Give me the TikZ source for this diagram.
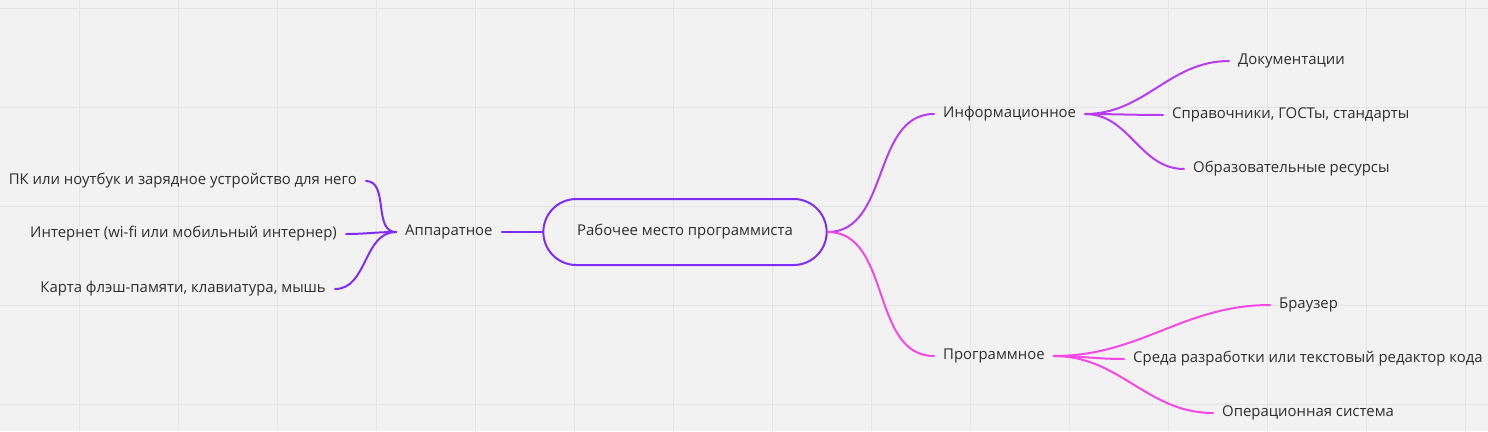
\documentclass[tikz,border=0pt]{standalone}
\usepackage{fontspec}
\setmainfont{Open Sans}
\usetikzlibrary{shapes.misc}
\definecolor{bgcol}{HTML}{F2F2F2}
\definecolor{gridcol}{HTML}{E5E5E5}
\definecolor{txtcol}{HTML}{2E2E2E}
\definecolor{hwcol}{HTML}{7F2DF5}
\definecolor{infocol}{HTML}{B83CF5}
\definecolor{progcol}{HTML}{F548E6}
\begin{document}
\begin{tikzpicture}[x=1pt,y=-1pt]
%===STYLES===
\tikzset{item/.style ={text=txtcol, inner xsep=9pt, inner ysep=0pt, font=\fontsize{14.9}{17}\selectfont},
 rootbox/.style ={draw=hwcol, line width=2pt, rounded rectangle, minimum width=290pt, minimum height=66pt, text=txtcol, font=\fontsize{14.9}{17}\selectfont},
 link/.style ={line width=2pt, line cap=round},
 gridline/.style ={gridcol, line width=1pt}}
%===background and grid===
\useasboundingbox (0,0) rectangle (1488,431);
\fill[bgcol] (0,0) rectangle (1488,431);
\foreach \gx in {79,178,...,1465} \draw[gridline] (\gx,0) -- (\gx,431);
\foreach \gy in {8,107,...,404} \draw[gridline] (0,\gy) -- (1488,\gy);
%===root===
\node[rootbox] (root) at (685,232) {Рабочее место программиста};
%===branches===
\node[item,anchor=west] (hw) at (396,232) {Аппаратное};
\node[item,anchor=west] (info) at (934,114) {Информационное};
\node[item,anchor=west] (prog) at (934,356) {Программное};
%===leaves left===
\node[item,anchor=east] (pc) at (366,181) {ПК или ноутбук и зарядное устройство для него};
\node[item,anchor=east] (net) at (346,234) {Интернет (wi-fi или мобильный интернер)};
\node[item,anchor=east] (card) at (335,289) {Карта флэш-памяти, клавиатура, мышь};
%===leaves right===
\node[item,anchor=west] (docs) at (1229,61) {Документации};
\node[item,anchor=west] (refs) at (1163,115) {Справочники, ГОСТы, стандарты};
\node[item,anchor=west] (edu) at (1184,169) {Образовательные ресурсы};
\node[item,anchor=west] (web) at (1270,305) {Браузер};
\node[item,anchor=west] (ide) at (1124,359) {Среда разработки или текстовый редактор кода};
\node[item,anchor=west] (os) at (1213,413) {Операционная система};
%===links===
\draw[link,hwcol] (root.west) -- (hw.east);
\draw[link,hwcol] (pc.east) to[out=0,in=180] (hw.west);
\draw[link,hwcol] (net.east) to[out=0,in=180] (hw.west);
\draw[link,hwcol] (card.east) to[out=0,in=180] (hw.west);
\draw[link,infocol] (root.east) to[out=0,in=180] (info.west);
\draw[link,progcol] (root.east) to[out=0,in=180] (prog.west);
\draw[link,infocol] (info.east) to[out=0,in=180] (docs.west);
\draw[link,infocol] (info.east) to[out=0,in=180] (refs.west);
\draw[link,infocol] (info.east) to[out=0,in=180] (edu.west);
\draw[link,progcol] (prog.east) to[out=0,in=180] (web.west);
\draw[link,progcol] (prog.east) to[out=0,in=180] (ide.west);
\draw[link,progcol] (prog.east) to[out=0,in=180] (os.west);
\end{tikzpicture}
\end{document}
